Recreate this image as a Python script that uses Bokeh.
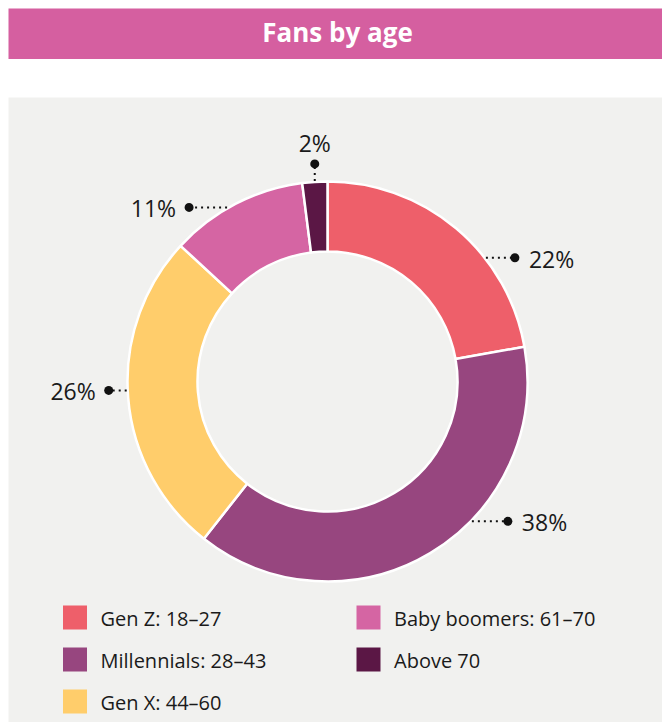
import math
from bokeh.plotting import figure
from bokeh.models import Range1d, BoxAnnotation, Label, ColumnDataSource
from bokeh.core.properties import value
from bokeh.embed import file_html
from bokeh.resources import INLINE

# ---- data ----
categories = ["Gen Z: 18–27", "Millennials: 28–43", "Gen X: 44–60",
              "Baby boomers: 61–70", "Above 70"]
shares = [22, 38, 26, 11, 2]
colors = ["#EE5F6A", "#97467F", "#FFCD6B", "#D565A3", "#5B1745"]
title_text = "Fans by age"

# ---- layout (styles / positions, not data) ----
W, H = 662, 722
CX, CY = 327, 341          # donut centre (data px)
R_OUT, R_IN = 200, 130
label_angle_offset = [12, -15, 2, -2.7, 0]       # degrees
label_side = ["right", "right", "left", "left", "up"]
leader_len = [29, 36, 18, 38, 17]
FONT = "Open Sans"
TXT = "#1a1a1a"

p = figure(width=W, height=H, x_range=Range1d(0, W), y_range=Range1d(0, H),
           output_backend="svg", toolbar_location=None, min_border=0)
p.axis.visible = False
p.grid.visible = False
p.outline_line_color = None
p.background_fill_color = "white"
p.border_fill_color = "white"

p.add_layout(BoxAnnotation(left=8, right=W, bottom=0, top=625, fill_color="#F1F1EF",
                           fill_alpha=1, line_color=None, level="underlay"))
p.add_layout(BoxAnnotation(left=8, right=W, bottom=663.5, top=714, fill_color="#D55FA0",
                           fill_alpha=1, line_color=None, level="underlay"))
p.add_layout(Label(x=337, y=691, text=title_text, text_align="center",
                   text_baseline="middle", text_color="white", text_font=FONT,
                   text_font_size="26px", text_font_style="bold"))

# ---- donut ----
total = sum(shares)
cum = [0]
for v in shares:
    cum.append(cum[-1] + v)
a0 = [2 * math.pi * c / total for c in cum[:-1]]
a1 = [2 * math.pi * c / total for c in cum[1:]]
src = ColumnDataSource(dict(
    start=[math.pi / 2 - b for b in a1],
    end=[math.pi / 2 - a for a in a0],
    color=colors, name=categories))
p.annular_wedge(x=CX, y=CY, inner_radius=R_IN, outer_radius=R_OUT,
                start_angle="start", end_angle="end", direction="anticlock",
                fill_color="color", line_color="white", line_width=2.5, source=src)

# ---- data labels with dotted leaders ----
x0s, y0s, x1s, y1s, tx, ty, talign, labels = [], [], [], [], [], [], [], []
for i, v in enumerate(shares):
    mid = (cum[i] + v / 2) / total * 360 + label_angle_offset[i]
    th = math.radians(mid)
    sx = CX + (R_OUT + 1) * math.sin(th)
    sy = CY + (R_OUT + 1) * math.cos(th)
    side = label_side[i]
    if side == "right":
        ex, ey = sx + leader_len[i], sy
        tx.append(ex + 14); ty.append(ey - 1); talign.append("left")
    elif side == "left":
        ex, ey = sx - leader_len[i], sy
        tx.append(ex - 13); ty.append(ey - 1); talign.append("right")
    else:
        ex, ey = sx, sy + leader_len[i]
        tx.append(ex); ty.append(ey + 21); talign.append("center")
    x0s.append(sx); y0s.append(sy); x1s.append(ex); y1s.append(ey)
    labels.append(f"{v}%")

lsrc = ColumnDataSource(dict(x0=x0s, y0=y0s, x1=x1s, y1=y1s, tx=tx, ty=ty,
                             al=talign, lab=labels))
p.segment(x0="x0", y0="y0", x1="x1", y1="y1", source=lsrc, line_color="#111111",
          line_width=2, line_dash="2 4")
p.scatter(x="x1", y="y1", source=lsrc, size=9, fill_color="#111111", line_color=None)
p.text(x="tx", y="ty", text="lab", text_align="al", text_baseline="middle",
       source=lsrc, text_font=value(FONT), text_font_size="23px", text_color=TXT)

# ---- legend ----
col_x = [74.5, 368]
row_y = [105, 63, 21]
lx = [col_x[i // 3] for i in range(len(categories))]
ly = [row_y[i % 3] for i in range(len(categories))]
gsrc = ColumnDataSource(dict(x=lx, y=ly, tx=[x + 25.5 for x in lx],
                             ty=[y - 1 for y in ly], color=colors, name=categories))
p.rect(x="x", y="y", width=24, height=24, fill_color="color", line_color=None, source=gsrc)
p.text(x="tx", y="ty", text="name", text_baseline="middle", source=gsrc,
       text_font=value(FONT), text_font_size="20px", text_color=TXT)

open("out.html", "w").write(file_html(p, INLINE))
